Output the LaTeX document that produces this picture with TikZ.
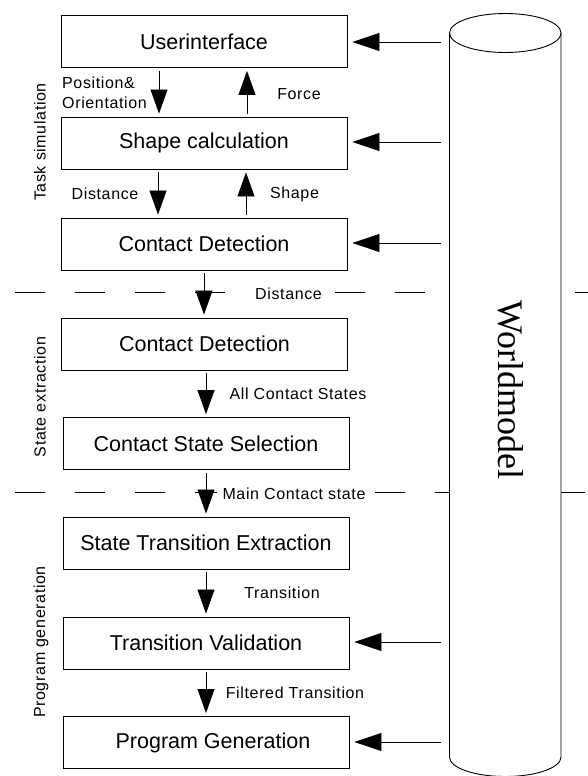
\documentclass[tikz,border=0pt]{standalone}
\usepackage{fontspec}
\setmainfont{Liberation Sans}
\newfontfamily\wmfont{Liberation Serif}
\newfontfamily\lblfont[LetterSpace=4]{Liberation Sans}
\usetikzlibrary{arrows.meta}
\begin{document}
\begin{tikzpicture}[x=1pt,y=-1pt,
  stepbox/.style={draw, line width=0.9pt, minimum width=286pt, minimum height=52pt, inner sep=0pt,
     font=\fontsize{21.5}{24}\selectfont},
  lbl/.style={inner sep=1pt, font=\lblfont\fontsize{16}{20}\selectfont},
  side/.style={inner sep=0pt, rotate=90, font=\lblfont\fontsize{16}{20}\selectfont},
  varr/.style={line width=0.8pt, -{Triangle[length=24pt,width=17pt]}, shorten <=3pt, shorten >=3pt},
  harr/.style={line width=0.8pt, -{Triangle[length=27pt,width=18pt]}, shorten >=5pt},
  sep/.style={line width=0.8pt, dash pattern=on 30pt off 30pt}
]
\useasboundingbox (0,0) rectangle (587,776);

% separators
\coordinate (s1a) at (15,292); \coordinate (s1m) at (256,292);
\coordinate (s1n) at (335,292); \coordinate (s1b) at (605,292);
\coordinate (s2a) at (15,492); \coordinate (s2b) at (587,492);
\draw[sep] (s1a) -- (s1m);
\draw[sep] (s1n) -- (s1b);
\draw[sep] (s2a) -- (s2b);

% worldmodel cylinder
\filldraw[fill=white, line width=0.9pt] (449.5,33) -- (449.5,757)
  arc[start angle=180, end angle=0, x radius=55.75, y radius=19.5] -- (561,33) -- cycle;
\filldraw[fill=white, line width=0.9pt] (505.25,33) ellipse [x radius=55.75, y radius=19.5];
\node[rotate=-90, inner sep=0pt, font=\wmfont\fontsize{36}{40}\selectfont] (wm) at (511,390) {Worldmodel};

% boxes
\node[stepbox] (b1) at (204,41.5) {Userinterface};
\node[stepbox] (b2) at (204,143) {Shape calculation};
\node[stepbox] (b3) at (204,244) {Contact Detection};
\node[stepbox] (b4) at (204.5,344) {Contact Detection};
\node[stepbox] (b5) at (206,443.5) {Contact State Selection};
\node[stepbox] (b6) at (206,543) {State Transition Extraction};
\node[stepbox] (b7) at (206,643) {Transition Validation};
\node[stepbox] (b8) at (206,742.5) {\hspace*{14pt}Program Generation};

% section labels
\node[side] (t1) at (40,142) {Task simulation};
\node[side] (t2) at (40,397) {State extraction};
\node[side] (t3) at (41,642) {Program generation};

% vertical arrows
\draw[varr] (b1.south -| 159,0) -- (b2.north -| 159,0);
\draw[varr] (b2.north -| 247,0) -- (b1.south -| 247,0);
\draw[varr] (b2.south -| 158,0) -- (b3.north -| 158,0);
\draw[varr] (b3.north -| 246,0) -- (b2.south -| 246,0);
\draw[varr] (b3.south -| 204,0) -- (b4.north -| 204,0);
\draw[varr] (b4.south -| 206,0) -- (b5.north -| 206,0);
\draw[varr] (b5.south -| 206,0) -- (b6.north -| 206,0);
\draw[varr] (b6.south -| 206,0) -- (b7.north -| 206,0);
\draw[varr] (b7.south -| 206,0) -- (b8.north -| 206,0);

% arrow labels
\node[lbl, anchor=west, align=left] (l1) at (61,93) {Position\&\\Orientation};
\node[lbl] (l2) at (299,94) {Force};
\node[lbl] (l3) at (105,194) {Distance};
\node[lbl] (l4) at (294.5,194) {Shape};
\node[lbl, fill=white, inner xsep=6pt] (l5) at (288.5,293.5) {Distance};
\node[lbl] (l6) at (298,394) {All Contact States};
\node[lbl, fill=white, inner xsep=6pt] (l7) at (294,493.5) {Main Contact state};
\node[lbl] (l8) at (282,593) {Transition};
\node[lbl] (l9) at (295,693) {Filtered Transition};

% worldmodel arrows
\coordinate (w1) at (441,42);
\coordinate (w2) at (441,142);
\coordinate (w3) at (441,243);
\coordinate (w4) at (441,642);
\coordinate (w5) at (441,742);
\draw[harr] (w1) -- (w1 -| b1.east);
\draw[harr] (w2) -- (w2 -| b2.east);
\draw[harr] (w3) -- (w3 -| b3.east);
\draw[harr] (w4) -- (w4 -| b7.east);
\draw[harr] (w5) -- (w5 -| b8.east);
\end{tikzpicture}
\end{document}
